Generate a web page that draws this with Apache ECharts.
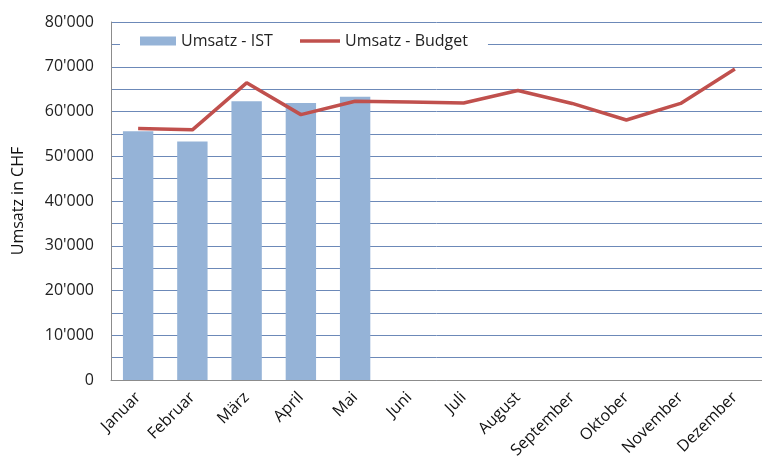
<!DOCTYPE html>
<html>
<head>
<meta charset="utf-8">
<script src="https://cdn.jsdelivr.net/npm/echarts@6/dist/echarts.min.js"></script>
<style>
html,body{margin:0;padding:0;background:#fff;}
#chart{width:762px;height:464px;}
</style>
</head>
<body>
<div id="chart"></div>
<script>
var categories = ['Januar','Februar','März','April','Mai','Juni','Juli','August','September','Oktober','November','Dezember'];
var umsatzIst = [55600, 53300, 62300, 61900, 63300, null, null, null, null, null, null, null];
var umsatzBudget = [56200, 55900, 66400, 59300, 62300, 62100, 61900, 64700, 61800, 58100, 61800, 69500];
var seriesNames = ['Umsatz - IST', 'Umsatz - Budget'];
var axisTitle = 'Umsatz in CHF';

var FONT = '"Open Sans", sans-serif';
var chart = echarts.init(document.getElementById('chart'), null, {renderer: 'canvas'});
chart.setOption({
  animation: false,
  backgroundColor: '#ffffff',
  grid: {left: 111, top: 22, right: -9, bottom: 84, containLabel: false},
  legend: [
    {
      left: 120, top: 29,
      backgroundColor: '#ffffff',
      padding: [4, 20, 4, 20],
      itemWidth: 36, itemHeight: 9,
      textStyle: {fontFamily: FONT, fontSize: 16, color: '#222'},
      data: [{name: seriesNames[0], icon: 'rect'}]
    },
    {
      left: 276, top: 29,
      backgroundColor: '#ffffff',
      padding: [4, 20, 4, 24],
      itemWidth: 40, itemHeight: 3.5,
      textStyle: {fontFamily: FONT, fontSize: 16, color: '#222'},
      data: [{name: seriesNames[1], icon: 'rect'}]
    }
  ],
  xAxis: {
    type: 'category',
    data: categories,
    boundaryGap: true,
    axisLine: {lineStyle: {color: '#8c8c8c', width: 1}},
    axisTick: {show: false},
    axisLabel: {rotate: 45, fontFamily: FONT, fontSize: 16, color: '#111', margin: 15, interval: 0}
  },
  yAxis: {
    type: 'value',
    min: 0, max: 80000, interval: 5000,
    name: axisTitle,
    nameLocation: 'middle',
    nameGap: 85,
    nameTextStyle: {fontFamily: FONT, fontSize: 16, color: '#111'},
    axisLine: {show: true, lineStyle: {color: '#8c8c8c', width: 1}},
    axisTick: {show: false},
    splitLine: {show: true, lineStyle: {color: '#6c89b8', width: 1}},
    axisLabel: {
      fontFamily: FONT, fontSize: 16, color: '#222', margin: 17,
      formatter: function (v) {
        if (v % 10000 !== 0) return '';
        if (v === 0) return '0';
        var s = String(v);
        return s.slice(0, s.length - 3) + "'" + s.slice(s.length - 3);
      }
    }
  },
  series: [
    {
      name: seriesNames[0],
      type: 'bar',
      data: umsatzIst,
      barWidth: '56%',
      itemStyle: {color: '#95b3d7'}
    },
    {
      name: seriesNames[1],
      type: 'line',
      data: umsatzBudget,
      symbol: 'none',
      showSymbol: false,
      lineStyle: {color: '#c0504d', width: 3.5},
      itemStyle: {color: '#c0504d'},
      z: 5
    }
  ]
});
</script>
</body>
</html>
